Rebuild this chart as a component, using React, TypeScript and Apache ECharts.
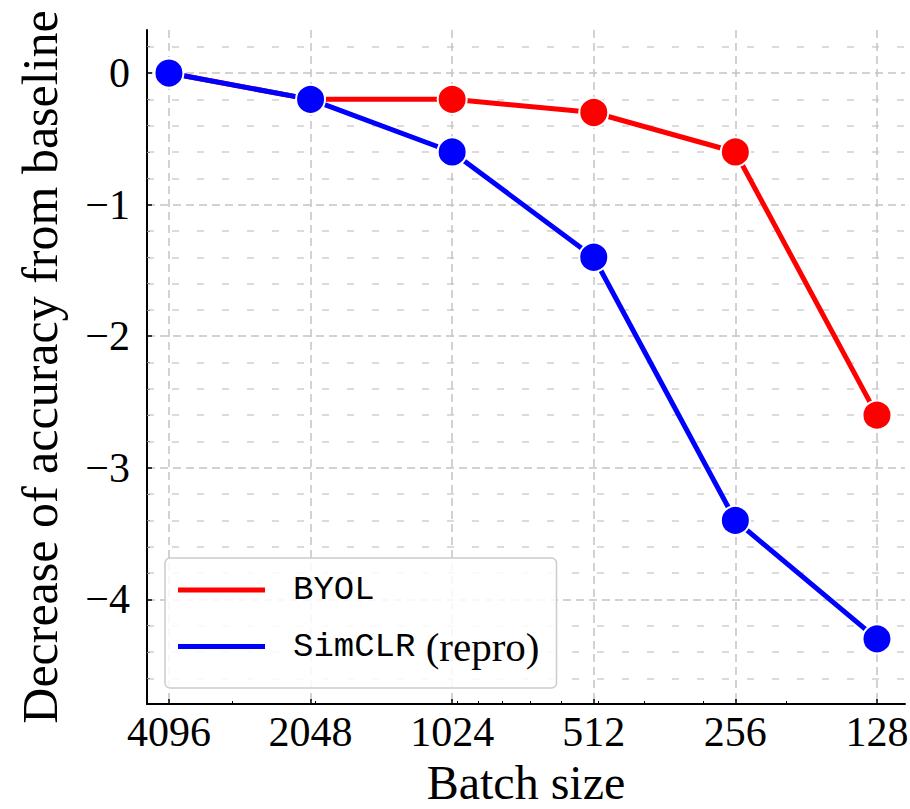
import React, { useEffect, useRef } from "react";
import * as echarts from "echarts";

const batchSizes = [4096, 2048, 1024, 512, 256, 128];
const batchLabels = ["4096", "2048", "1024", "512", "256", "128"];
const byol = [0, -0.2, -0.2, -0.3, -0.6, -2.6];
const simclr = [0, -0.2, -0.6, -1.4, -3.4, -4.3];
const xMinorTickSizes = [3000, 2000, 1000, 900, 800, 700, 600, 500, 400, 300, 200];
const yTickValues = [0, -1, -2, -3, -4];
const yTickLabels = ["0", "\u22121", "\u22122", "\u22123", "\u22124"];
const yMinorTicks = [
  0.2, -0.2, -0.4, -0.6, -0.8, -1.2, -1.4, -1.6, -1.8, -2.2, -2.4, -2.6, -2.8,
  -3.2, -3.4, -3.6, -3.8, -4.2, -4.4, -4.6,
];

const SERIF = "'Liberation Serif', 'DejaVu Serif', serif";
const MONO = "'Liberation Mono', 'DejaVu Sans Mono', monospace";

// x axis: position of a batch size in octaves below the largest batch size (log2 scale)
const octave = (b: number) => Math.log2(batchSizes[0] / b);
const xMajor = batchSizes.map(octave);
const xMinor = xMinorTickSizes.map(octave);

const X_MIN = -0.155;
const X_MAX = 5.198;
const Y_MIN = -4.795;
const Y_MAX = 0.327;

export default function App() {
  const ref = useRef<HTMLDivElement>(null);
  useEffect(() => {
    if (!ref.current) return;
    const chart = echarts.init(ref.current, null, { renderer: "svg" });
    const majorSplit = { show: true, lineStyle: { color: "#c4c4c4", width: 1.5, type: [8, 5] as any } };
    chart.setOption({
      animation: false,
      backgroundColor: "#ffffff",
      grid: { left: 147, top: 30, width: 758, height: 674, containLabel: false, outerBoundsMode: "none" },
      xAxis: [
        {
          type: "value",
          min: X_MIN,
          max: X_MAX,
          name: "Batch size",
          nameLocation: "middle",
          nameGap: 54,
          nameTextStyle: { fontFamily: SERIF, fontSize: 48, lineHeight: 48, color: "#000" },
          axisLine: { show: true, onZero: false, lineStyle: { color: "#000", width: 2 } },
          axisTick: { show: true, inside: true, length: 5, customValues: xMajor, lineStyle: { color: "#000", width: 1.5 } },
          axisLabel: {
            show: true,
            customValues: xMajor,
            margin: 7,
            fontFamily: SERIF,
            fontSize: 42,
            color: "#000",
            formatter: (v: number) => {
              const i = xMajor.findIndex((b) => Math.abs(b - v) < 1e-3);
              return i >= 0 ? batchLabels[i] : "";
            },
          },
          splitLine: majorSplit,
        },
        {
          type: "value",
          min: X_MIN,
          max: X_MAX,
          position: "bottom",
          axisLine: { show: false, onZero: false },
          axisTick: { show: true, inside: true, length: 3, customValues: xMinor, lineStyle: { color: "#000", width: 1 } },
          axisLabel: { show: false },
          splitLine: { show: false },
        },
      ],
      yAxis: [
        {
          type: "value",
          min: Y_MIN,
          max: Y_MAX,
          name: "Decrease of accuracy from baseline",
          nameLocation: "middle",
          nameGap: 82,
          nameTextStyle: { fontFamily: SERIF, fontSize: 50, color: "#000" },
          axisLine: { show: true, onZero: false, lineStyle: { color: "#000", width: 2 } },
          axisTick: { show: true, inside: true, length: 5, customValues: yTickValues, lineStyle: { color: "#000", width: 1.5 } },
          axisLabel: {
            show: true,
            customValues: yTickValues,
            margin: 17,
            fontFamily: SERIF,
            fontSize: 42,
            color: "#000",
            formatter: (v: number) => {
              const i = yTickValues.findIndex((t) => Math.abs(t - v) < 1e-6);
              return i >= 0 ? yTickLabels[i] : "";
            },
          },
          splitLine: majorSplit,
        },
        {
          type: "value",
          min: Y_MIN,
          max: Y_MAX,
          position: "left",
          axisLine: { show: false, onZero: false },
          axisTick: { show: true, inside: true, length: 3, customValues: yMinorTicks, lineStyle: { color: "#888", width: 1 } },
          axisLabel: { show: false },
          splitLine: { show: true, lineStyle: { color: "#d0d0d0", width: 1.5, type: [7, 18] as any } },
        },
      ],
      legend: {
        orient: "vertical",
        left: 165,
        top: 558,
        padding: [13, 17, 21, 13],
        itemGap: 17,
        itemWidth: 87,
        itemHeight: 5,
        backgroundColor: "rgba(255,255,255,0.85)",
        borderColor: "#cccccc",
        borderWidth: 1.5,
        borderRadius: 5,
        itemStyle: { borderWidth: 0 },
        data: [
          { name: "BYOL", icon: "rect" },
          { name: "SimCLR (repro)", icon: "rect" },
        ],
        formatter: (name: string) => (name === "BYOL" ? "{m|BYOL}" : "{m|SimCLR}{s| (repro)}"),
        textStyle: {
          padding: [0, 0, 0, 23],
          color: "#000",
          fontSize: 36,
          lineHeight: 38,
          rich: {
            m: { fontFamily: MONO, fontSize: 34, color: "#000", lineHeight: 38 },
            s: { fontFamily: SERIF, fontSize: 41, color: "#000", lineHeight: 38 },
          },
        },
      },
      series: [
        {
          name: "BYOL",
          type: "line",
          xAxisIndex: 0,
          yAxisIndex: 0,
          data: batchSizes.map((b, i) => [octave(b), byol[i]]),
          symbol: "circle",
          symbolSize: 29,
          lineStyle: { color: "#ff0000", width: 5 },
          itemStyle: { color: "#ff0000", borderColor: "#ffffff", borderWidth: 2 },
          z: 3,
        },
        {
          name: "SimCLR (repro)",
          type: "line",
          xAxisIndex: 0,
          yAxisIndex: 0,
          data: batchSizes.map((b, i) => [octave(b), simclr[i]]),
          symbol: "circle",
          symbolSize: 29,
          lineStyle: { color: "#0000ff", width: 5 },
          itemStyle: { color: "#0000ff", borderColor: "#ffffff", borderWidth: 2 },
          z: 4,
        },
      ],
    });
    return () => chart.dispose();
  }, []);
  return <div ref={ref} style={{ position: "fixed", left: 0, top: 0, width: 910, height: 809 }} />;
}
